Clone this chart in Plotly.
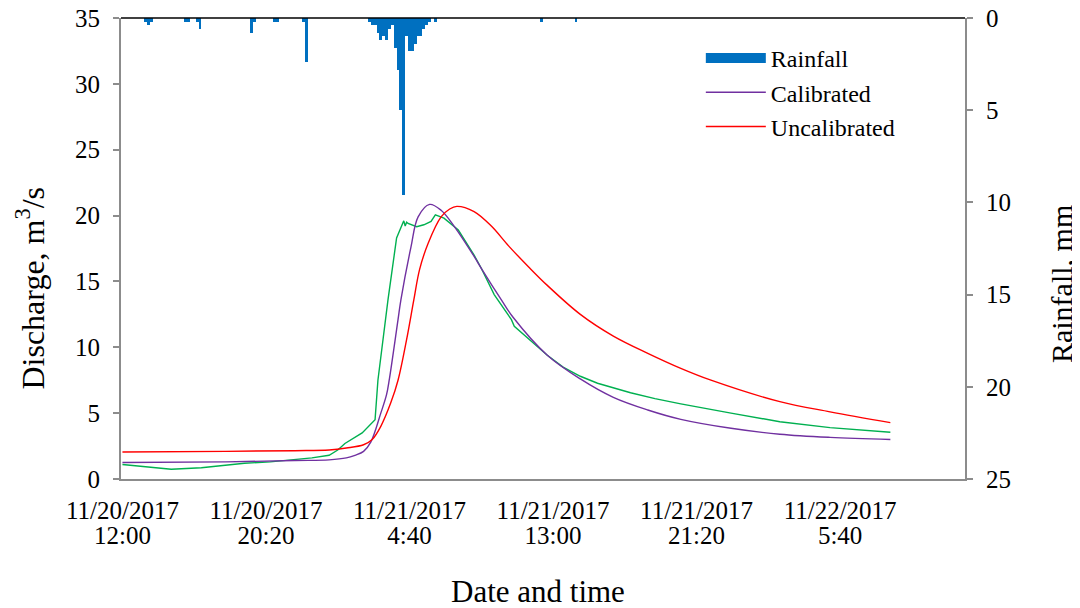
import plotly.graph_objects as go

# ---------------- data ----------------
rain_time = [
    "2017-11-20 13:20", "2017-11-20 13:30", "2017-11-20 13:40",
    "2017-11-20 15:40", "2017-11-20 15:50", "2017-11-20 16:20", "2017-11-20 16:30",
    "2017-11-20 19:30", "2017-11-20 19:40", "2017-11-20 20:50", "2017-11-20 21:00",
    "2017-11-20 22:30", "2017-11-20 22:40",
    "2017-11-21 02:20", "2017-11-21 02:30", "2017-11-21 02:40", "2017-11-21 02:50",
    "2017-11-21 03:00", "2017-11-21 03:10", "2017-11-21 03:20", "2017-11-21 03:30",
    "2017-11-21 03:40", "2017-11-21 03:50", "2017-11-21 04:00", "2017-11-21 04:10",
    "2017-11-21 04:20", "2017-11-21 04:30", "2017-11-21 04:40", "2017-11-21 04:50",
    "2017-11-21 05:00", "2017-11-21 05:10", "2017-11-21 05:20", "2017-11-21 05:30",
    "2017-11-21 05:40", "2017-11-21 05:50", "2017-11-21 06:10",
    "2017-11-21 12:20", "2017-11-21 14:20",
]
rain_mm = [
    0.2, 0.4, 0.2,
    0.2, 0.2, 0.2, 0.6,
    0.8, 0.2, 0.2, 0.2,
    0.2, 2.4,
    0.2, 0.4, 0.4, 0.8,
    1.2, 1.0, 1.2, 0.6,
    0.4, 1.6, 2.8, 5.0,
    9.6, 1.0, 1.8, 1.8,
    1.4, 1.0, 1.0, 0.6,
    0.4, 0.2, 0.2,
    0.2, 0.2,
]

obs_time = [
    "2017-11-20 12:00", "2017-11-20 13:05", "2017-11-20 14:00", "2017-11-20 14:50",
    "2017-11-20 16:35", "2017-11-20 18:00", "2017-11-20 19:05", "2017-11-20 20:35",
    "2017-11-20 22:00", "2017-11-20 23:00", "2017-11-21 00:00", "2017-11-21 00:30",
    "2017-11-21 00:55", "2017-11-21 01:55", "2017-11-21 02:40", "2017-11-21 02:50",
    "2017-11-21 03:25", "2017-11-21 03:55", "2017-11-21 04:20", "2017-11-21 04:25",
    "2017-11-21 04:30", "2017-11-21 04:35", "2017-11-21 05:05", "2017-11-21 05:30",
    "2017-11-21 05:55", "2017-11-21 06:10", "2017-11-21 06:40", "2017-11-21 07:10",
    "2017-11-21 07:30", "2017-11-21 08:25", "2017-11-21 08:50", "2017-11-21 09:35",
    "2017-11-21 10:35", "2017-11-21 10:45", "2017-11-21 11:40", "2017-11-21 12:40",
    "2017-11-21 13:35", "2017-11-21 14:35", "2017-11-21 15:35", "2017-11-21 16:30",
    "2017-11-21 17:30", "2017-11-21 18:55", "2017-11-21 20:25", "2017-11-21 23:20",
    "2017-11-22 02:10", "2017-11-22 05:05", "2017-11-22 08:35",
]
obs_q = [
    1.1, 0.95, 0.85, 0.74,
    0.85, 1.05, 1.2, 1.3,
    1.5, 1.6, 1.8, 2.2,
    2.7, 3.5, 4.5, 7.5,
    13.6, 18.3, 19.6, 19.2,
    19.5, 19.4, 19.15, 19.3,
    19.55, 20.05, 19.8, 19.3,
    18.9, 17.0, 16.0, 14.0,
    12.1, 11.6, 10.55, 9.4,
    8.5, 7.8, 7.27, 6.9,
    6.55, 6.1, 5.7, 5.0,
    4.35, 3.9, 3.55,
]

cal_time = [
    "2017-11-20 12:00", "2017-11-20 18:00", "2017-11-20 22:00", "2017-11-21 00:00",
    "2017-11-21 01:00", "2017-11-21 01:30", "2017-11-21 02:00", "2017-11-21 02:25",
    "2017-11-21 03:00", "2017-11-21 03:20", "2017-11-21 03:30", "2017-11-21 04:00",
    "2017-11-21 04:10", "2017-11-21 04:45", "2017-11-21 05:10", "2017-11-21 05:50",
    "2017-11-21 06:30", "2017-11-21 07:15", "2017-11-21 08:25", "2017-11-21 08:50",
    "2017-11-21 10:00", "2017-11-21 10:40", "2017-11-21 12:40", "2017-11-21 14:35",
    "2017-11-21 16:30", "2017-11-21 18:30", "2017-11-21 20:25", "2017-11-21 23:20",
    "2017-11-22 02:10", "2017-11-22 05:05", "2017-11-22 08:35",
]
cal_q = [
    1.25, 1.3, 1.4, 1.45,
    1.6, 1.8, 2.1, 2.8,
    5.0, 6.4, 7.6, 12.1,
    13.6, 17.6, 19.9, 20.85,
    20.4, 19.2, 16.9, 16.0,
    13.6, 12.3, 9.4, 7.6,
    6.2, 5.24, 4.53, 3.85,
    3.4, 3.16, 3.0,
]

uncal_time = [
    "2017-11-20 12:00", "2017-11-20 18:00", "2017-11-20 22:00", "2017-11-21 00:00",
    "2017-11-21 01:00", "2017-11-21 02:00", "2017-11-21 02:30", "2017-11-21 03:00",
    "2017-11-21 03:35", "2017-11-21 04:00", "2017-11-21 04:30", "2017-11-21 04:55",
    "2017-11-21 05:15", "2017-11-21 05:45", "2017-11-21 06:30", "2017-11-21 07:00",
    "2017-11-21 07:25", "2017-11-21 08:25", "2017-11-21 09:25", "2017-11-21 10:25",
    "2017-11-21 11:35", "2017-11-21 12:40", "2017-11-21 14:35", "2017-11-21 16:30",
    "2017-11-21 18:30", "2017-11-21 20:25", "2017-11-21 22:10", "2017-11-22 02:10",
    "2017-11-22 05:05", "2017-11-22 08:35",
]
uncal_q = [
    2.05, 2.1, 2.15, 2.2,
    2.35, 2.6, 3.0, 4.0,
    5.8, 7.5, 10.6, 13.6,
    15.9, 17.9, 19.9, 20.5,
    20.7, 20.3, 19.2, 17.7,
    16.1, 14.7, 12.5, 10.85,
    9.54, 8.4, 7.5, 5.87,
    5.1, 4.28,
]

tick_times = ["2017-11-20 12:00", "2017-11-20 20:20", "2017-11-21 04:40",
              "2017-11-21 13:00", "2017-11-21 21:20", "2017-11-22 05:40"]
tick_dates = ["11/20/2017", "11/20/2017", "11/21/2017",
              "11/21/2017", "11/21/2017", "11/22/2017"]
tick_clock = ["12:00", "20:20", "4:40", "13:00", "21:20", "5:40"]

# ---------------- figure ----------------
FONT = "Liberation Serif, Times New Roman, serif"
AXIS_GREY = "#8c8c8c"
BLUE = "#0070C0"
PURPLE = "#7030A0"
RED = "#FF0000"
GREEN = "#00B050"
X_RANGE = ["2017-11-20 11:55", "2017-11-22 12:55"]

fig = go.Figure()

fig.add_trace(go.Bar(
    x=rain_time, y=rain_mm, yaxis="y2", marker=dict(color=BLUE, line=dict(width=0)),
    width=600000, showlegend=False, name="Rainfall"))

fig.add_trace(go.Scatter(x=obs_time, y=obs_q, mode="lines",
                         line=dict(color=GREEN, width=1.4), showlegend=False, name="Observed"))
fig.add_trace(go.Scatter(x=cal_time, y=cal_q, mode="lines",
                         line=dict(color=PURPLE, width=1.4, shape="spline", smoothing=1.0),
                         name="Calibrated"))
fig.add_trace(go.Scatter(x=uncal_time, y=uncal_q, mode="lines",
                         line=dict(color=RED, width=1.4, shape="spline", smoothing=1.0),
                         name="Uncalibrated"))
# legend swatch for rainfall (thick bar-like line)
fig.add_trace(go.Scatter(x=[None], y=[None], mode="lines", line=dict(color=BLUE, width=12),
                         name="Rainfall", legendrank=1))
# second row of the date-axis labels (clock times)
fig.add_trace(go.Scatter(x=[None], y=[None], xaxis="x2", showlegend=False, hoverinfo="skip"))

fig.update_layout(
    width=1072, height=600,
    paper_bgcolor="white", plot_bgcolor="white",
    margin=dict(l=113, r=115, t=10, b=129, autoexpand=False),
    font=dict(family=FONT, size=24, color="black"),
    bargap=0,
    xaxis=dict(
        type="date", range=X_RANGE,
        tickvals=tick_times, ticktext=tick_dates,
        showgrid=False, zeroline=False,
        showline=True, linecolor=AXIS_GREY, linewidth=2,
        ticks="", ticklabelstandoff=8, ticklabeloverflow="allow",
        tickfont=dict(family=FONT, size=25),
    ),
    xaxis2=dict(
        type="date", range=X_RANGE, overlaying="x", side="bottom", anchor="y",
        tickvals=tick_times, ticktext=tick_clock,
        showgrid=False, zeroline=False, showline=False,
        ticks="", ticklabelstandoff=39, ticklabeloverflow="allow",
        tickfont=dict(family=FONT, size=25),
    ),
    yaxis=dict(
        range=[0, 35], tickvals=[0, 5, 10, 15, 20, 25, 30, 35],
        showgrid=False, zeroline=False,
        showline=True, linecolor=AXIS_GREY, linewidth=2,
        ticks="outside", ticklen=6, tickcolor=AXIS_GREY, tickwidth=2,
        ticklabelstandoff=8, ticklabeloverflow="allow",
        tickfont=dict(family=FONT, size=25),
    ),
    yaxis2=dict(
        overlaying="y", side="right", range=[25, 0],
        tickvals=[0, 5, 10, 15, 20, 25],
        showgrid=False, zeroline=False,
        showline=True, linecolor=AXIS_GREY, linewidth=2,
        ticks="outside", ticklen=6, tickcolor=AXIS_GREY, tickwidth=2,
        ticklabelstandoff=8, ticklabeloverflow="allow",
        tickfont=dict(family=FONT, size=25),
    ),
    legend=dict(
        x=0.687, y=0.961, xanchor="left", yanchor="top",
        bgcolor="rgba(0,0,0,0)", font=dict(family=FONT, size=24),
        itemwidth=60, tracegroupgap=0, traceorder="normal",
    ),
    shapes=[dict(type="line", xref="paper", yref="paper", x0=0, x1=1, y0=1, y1=1,
                 line=dict(color="black", width=1.5))],
    annotations=[
        dict(text="Discharge, m<sup>3</sup>/s", xref="paper", yref="paper",
             x=-0.108, y=0.415, textangle=-90, showarrow=False,
             font=dict(family=FONT, size=32), xanchor="center", yanchor="middle"),
        dict(text="Rainfall, mm", xref="paper", yref="paper",
             x=1.115, y=0.423, textangle=-90, showarrow=False,
             font=dict(family=FONT, size=30), xanchor="center", yanchor="middle"),
        dict(text="Date and time", xref="paper", yref="paper",
             x=0.494, y=-0.245, showarrow=False,
             font=dict(family=FONT, size=31), xanchor="center", yanchor="middle"),
    ],
)

fig.write_html("out.html")
